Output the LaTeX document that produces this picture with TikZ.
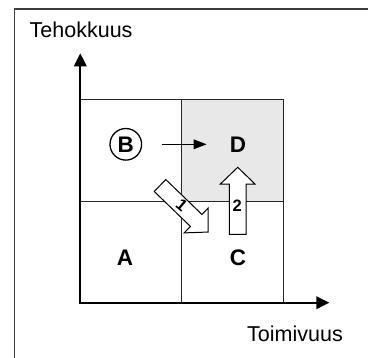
\documentclass[tikz,border=0pt]{standalone}
\usepackage{fontspec}
\setmainfont{Liberation Sans}
\usetikzlibrary{arrows.meta}
\definecolor{cellgray}{RGB}{232,232,232}
\definecolor{framegray}{RGB}{60,60,60}
\begin{document}
\begin{tikzpicture}[x=1bp,y=-1bp,
  gridline/.style={line width=1bp, draw=black!85},
  axis/.style={line width=2.2bp, {Triangle[length=13bp,width=12.5bp]}-{Triangle[length=13bp,width=12.5bp]}},
  axislabel/.style={font=\fontsize{21.5bp}{26bp}\selectfont, inner sep=0, anchor=base west},
  cell/.style={font=\bfseries\fontsize{22.5bp}{27bp}\selectfont, inner sep=0},
  blk/.style={draw=black, line width=1bp, fill=white, line join=miter},
  num/.style={font=\bfseries\fontsize{16.5bp}{20bp}\selectfont, inner sep=0},
  move/.style={line width=1.6bp, -{Triangle[length=13bp,width=9.5bp]}},
]
\useasboundingbox (0,0) rectangle (368,358);
\fill[white] (0,0) rectangle (368,358);
% frame
\draw[line width=1.5bp, framegray] (14.7,358) -- (14.7,9) -- (368,9);
% shaded cell D
\fill[cellgray] (181.7,99.3) rectangle (283.3,201.3);
% grid
\draw[gridline] (80.3,99.3) rectangle (283.3,302.7);
\draw[gridline] (181.7,99.3) -- (181.7,302.7);
\draw[gridline] (80.3,201.3) -- (283.3,201.3);
% axes
\coordinate (O) at (80.3,302.7);
\coordinate (ytip) at (80.3,53.3);
\coordinate (xtip) at (329.3,302.7);
\draw[axis] (ytip) -- (O) -- (xtip);
\node[axislabel] (ylab) at (29.5,37.7) {Tehokkuus};
\node[axislabel] (xlab) at (247,341.7) {Toimivuus};
% cell labels
\node[cell, circle, draw, line width=1.3bp, minimum size=31.6bp] (B) at (125.8,144.3) {B};
\node[cell] (D) at (238,144.3) {D};
\node[cell] (A) at (125,258) {A};
\node[cell] (C) at (238,258) {C};
\draw[move] ([xshift=19.4bp]B.east) -- ([xshift=-23bp]D.west);
% block arrow 1
\begin{scope}[shift={(160,185.5)}, rotate=-44]
\draw[blk] (0,-8.3) -- (50.3,-8.3) -- (50.3,-17.3) -- (67,0) -- (50.3,17.3) -- (50.3,8.3) -- (0,8.3) -- cycle;
\end{scope}
% block arrow 2
\begin{scope}[shift={(237.7,234.3)}, rotate=90]
\draw[blk] (0,-8.3) -- (50.3,-8.3) -- (50.3,-17.3) -- (67,0) -- (50.3,17.3) -- (50.3,8.3) -- (0,8.3) -- cycle;
\end{scope}
\node[num, rotate=-40] (n1) at (181.7,205.5) {1};
\node[num] (n2) at (237.2,205.7) {2};
\end{tikzpicture}
\end{document}
